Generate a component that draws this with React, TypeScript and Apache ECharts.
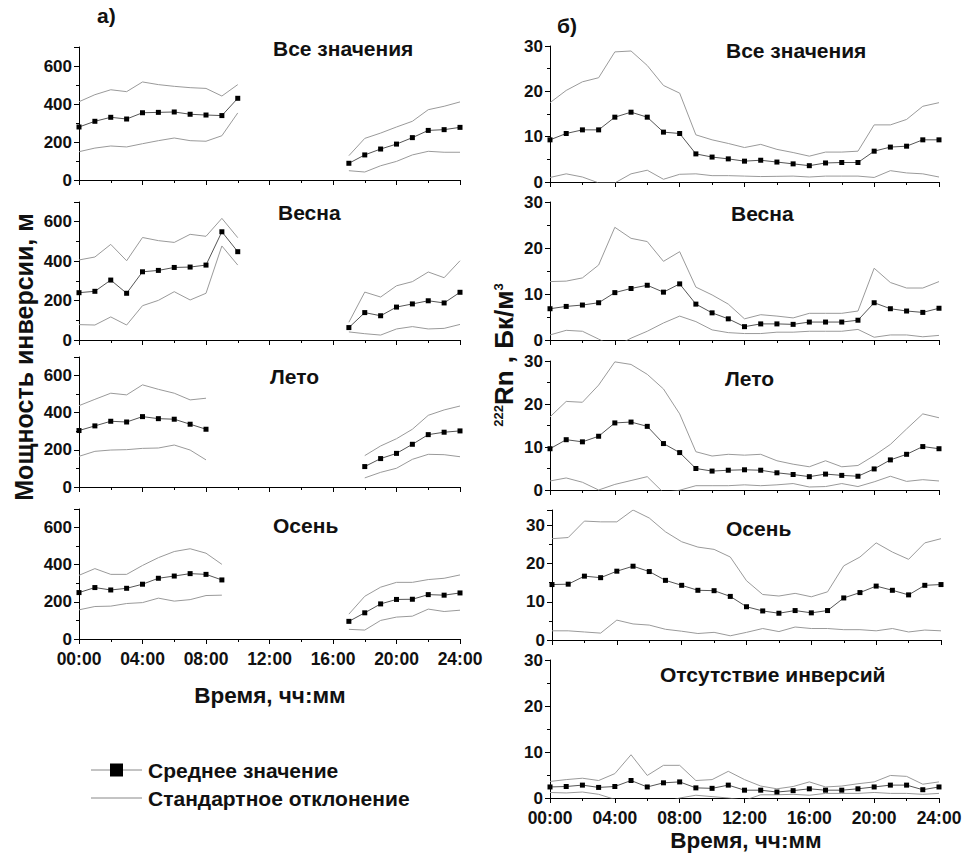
import React, { useEffect, useRef } from "react";
import * as echarts from "echarts";

const FONT = "'Liberation Sans', Arial, sans-serif";

const hours = [0, 1, 2, 3, 4, 5, 6, 7, 8, 9, 10, 11, 12, 13, 14, 15, 16, 17, 18, 19, 20, 21, 22, 23, 24];
const xTickLabels = ["00:00", "04:00", "08:00", "12:00", "16:00", "20:00", "24:00"];

const n = null;
// а) Inversion thickness, m
const invAllMean = [279, 309, 330, 321, 354, 356, 358, 346, 342, 339, 430, n, n, n, n, n, n, 88, 132, 163, 189, 223, 261, 265, 277];
const invAllUp = [412, 449, 475, 465, 516, 502, 493, 486, 482, 442, 502, n, n, n, n, n, n, 128, 219, 247, 279, 309, 370, 388, 411];
const invAllLow = [149, 168, 179, 174, 191, 207, 221, 207, 204, 233, 353, n, n, n, n, n, n, 49, 42, 75, 98, 132, 151, 146, 146];

const invSpringMean = [240, 247, 304, 237, 346, 353, 368, 370, 380, 549, 448, n, n, n, n, n, n, 63, 139, 123, 167, 183, 199, 188, 242];
const invSpringUp = [406, 421, 485, 402, 520, 504, 495, 536, 526, 617, 519, n, n, n, n, n, n, 90, 243, 218, 275, 296, 345, 316, 402];
const invSpringLow = [78, 76, 117, 76, 174, 201, 245, 203, 237, 477, 380, n, n, n, n, n, n, 41, 32, 25, 56, 68, 56, 59, 79];

const invSummerMean = [304, 329, 354, 350, 379, 368, 365, 338, 311, n, n, n, n, n, n, n, n, n, 110, 153, 181, 230, 282, 295, 302];
const invSummerUp = [438, 472, 505, 496, 550, 526, 505, 469, 478, n, n, n, n, n, n, n, n, n, 169, 221, 260, 311, 386, 415, 436];
const invSummerLow = [165, 192, 199, 201, 208, 210, 226, 199, 146, n, n, n, n, n, n, n, n, n, 49, 79, 101, 149, 176, 174, 163];

const invAutumnMean = [250, 277, 264, 273, 295, 327, 339, 352, 348, 318, n, n, n, n, n, n, n, 95, 141, 189, 213, 214, 239, 236, 248];
const invAutumnUp = [343, 379, 348, 348, 396, 438, 471, 486, 462, 402, n, n, n, n, n, n, n, 134, 230, 279, 305, 305, 320, 327, 345];
const invAutumnLow = [157, 175, 177, 191, 196, 220, 204, 212, 234, 236, n, n, n, n, n, n, n, 52, 48, 100, 118, 123, 161, 148, 155];

// б) Radon-222, Bq/m3
const rnAllMean = [9.3, 10.7, 11.5, 11.5, 14.3, 15.4, 14.3, 11.0, 10.7, 6.2, 5.5, 5.1, 4.6, 4.8, 4.4, 4.0, 3.6, 4.2, 4.3, 4.3, 6.8, 7.7, 7.9, 9.3, 9.3];
const rnAllUp = [17.5, 20.2, 22.1, 23.0, 28.7, 28.9, 25.7, 21.3, 19.6, 10.4, 9.3, 8.5, 7.6, 8.3, 7.2, 6.5, 5.7, 6.6, 6.6, 6.8, 12.6, 12.6, 13.8, 16.7, 17.5];
const rnAllLow = [1.0, 1.8, 1.1, -0.2, -0.2, 1.8, 2.6, 0.6, 1.7, 1.8, 1.4, 1.4, 1.3, 1.2, 1.25, 1.3, 1.1, 1.3, 1.3, 1.3, 1.0, 2.5, 2.0, 1.8, 1.1];

const rnSpringMean = [6.8, 7.3, 7.6, 8.1, 10.3, 11.2, 11.9, 10.4, 12.2, 7.8, 5.9, 4.6, 2.9, 3.5, 3.5, 3.4, 3.9, 3.9, 3.9, 4.3, 8.1, 6.8, 6.3, 6.0, 6.9];
const rnSpringUp = [12.7, 12.8, 13.5, 16.3, 24.5, 22.1, 21.4, 17.1, 19.2, 11.5, 9.8, 7.8, 4.6, 5.5, 5.2, 4.8, 5.8, 5.8, 5.8, 6.3, 15.6, 12.5, 11.3, 11.3, 12.7];
const rnSpringLow = [1.1, 2.1, 1.9, 0.2, -1.5, 0.4, 1.9, 3.7, 5.2, 4.0, 2.2, 1.6, 1.4, 1.4, 1.7, 1.7, 1.9, 1.9, 1.9, 2.3, 0.6, 1.1, 1.1, 0.7, 1.0];

const rnSummerMean = [9.6, 11.7, 11.2, 12.5, 15.6, 15.8, 14.8, 10.8, 8.7, 5.0, 4.4, 4.6, 4.7, 4.6, 4.0, 3.6, 3.1, 3.7, 3.4, 3.2, 4.9, 7.0, 8.3, 10.1, 9.6];
const rnSummerUp = [17.0, 20.6, 20.4, 24.4, 29.8, 29.2, 26.9, 23.5, 17.7, 8.9, 7.9, 8.3, 8.1, 8.3, 6.8, 6.0, 5.4, 6.8, 5.4, 5.7, 8.0, 10.6, 14.2, 17.7, 16.8];
const rnSummerLow = [2.1, 2.8, 1.8, 0.0, 1.3, 2.2, 3.1, -0.6, -0.05, 1.0, 1.0, 1.0, 1.2, 1.0, 1.2, 1.5, 0.7, 0.8, 1.5, 0.8, 1.9, 3.2, 2.0, 2.4, 2.1];

const rnAutumnMean = [14.5, 14.6, 16.7, 16.3, 18.0, 19.3, 17.9, 15.6, 14.3, 13.0, 12.9, 11.4, 8.7, 7.6, 7.0, 7.7, 7.1, 7.7, 11.0, 12.4, 14.1, 13.0, 11.8, 14.3, 14.5];
const rnAutumnUp = [26.5, 26.8, 31.1, 30.9, 30.9, 34.0, 31.9, 28.3, 25.7, 24.3, 23.7, 21.7, 15.5, 11.9, 11.5, 12.2, 11.3, 12.6, 19.4, 21.7, 25.4, 23.0, 21.1, 25.4, 26.5];
const rnAutumnLow = [2.4, 2.4, 2.1, 1.8, 5.2, 4.2, 3.9, 2.8, 2.3, 1.7, 2.0, 1.1, 2.0, 3.0, 2.2, 3.4, 3.0, 3.0, 2.7, 2.7, 2.4, 3.0, 2.1, 2.6, 2.4];

const rnNoInvMean = [2.4, 2.5, 2.8, 2.3, 2.5, 3.8, 2.4, 3.3, 3.5, 2.2, 2.1, 2.8, 1.7, 1.7, 1.3, 1.6, 2.0, 1.7, 1.7, 2.0, 2.4, 2.8, 2.8, 1.8, 2.4];
const rnNoInvUp = [3.6, 4.0, 4.3, 3.8, 5.3, 9.4, 4.9, 7.1, 7.1, 3.8, 4.0, 5.8, 4.0, 2.6, 2.0, 2.5, 3.5, 2.4, 2.6, 3.1, 3.5, 4.9, 4.7, 3.0, 3.5];
const rnNoInvLow = [1.2, 1.1, 1.3, 0.8, -0.3, -1.8, -0.5, -1.0, 0.0, 0.6, 0.3, 0.0, -0.5, 0.7, 0.7, 0.8, 0.6, 1.0, 1.0, 1.0, 1.2, 1.0, 1.0, 0.8, 1.0];

const panelTitles = ["Все значения", "Весна", "Лето", "Осень", "Отсутствие инверсий"];

type Panel = {
  left: number; top: number; width: number; height: number;
  max: number; step: number; showX: boolean;
  mean: (number | null)[]; up: (number | null)[]; low: (number | null)[];
  title: string; tx: number; ty: number;
};

const panels: Panel[] = [
  { left: 79, top: 47, width: 381, height: 133, max: 700, step: 200, showX: false, mean: invAllMean, up: invAllUp, low: invAllLow, title: panelTitles[0], tx: 273, ty: 48 },
  { left: 79, top: 202, width: 381, height: 138, max: 700, step: 200, showX: false, mean: invSpringMean, up: invSpringUp, low: invSpringLow, title: panelTitles[1], tx: 278, ty: 212 },
  { left: 79, top: 357, width: 381, height: 130, max: 700, step: 200, showX: false, mean: invSummerMean, up: invSummerUp, low: invSummerLow, title: panelTitles[2], tx: 270, ty: 376 },
  { left: 79, top: 509, width: 381, height: 130, max: 700, step: 200, showX: true, mean: invAutumnMean, up: invAutumnUp, low: invAutumnLow, title: panelTitles[3], tx: 273, ty: 525 },
  { left: 550, top: 46, width: 389, height: 136, max: 30, step: 10, showX: false, mean: rnAllMean, up: rnAllUp, low: rnAllLow, title: panelTitles[0], tx: 726, ty: 50 },
  { left: 550, top: 202, width: 389, height: 138, max: 30, step: 10, showX: false, mean: rnSpringMean, up: rnSpringUp, low: rnSpringLow, title: panelTitles[1], tx: 731, ty: 213 },
  { left: 550, top: 361, width: 389, height: 129, max: 30, step: 10, showX: false, mean: rnSummerMean, up: rnSummerUp, low: rnSummerLow, title: panelTitles[2], tx: 725, ty: 378 },
  { left: 552, top: 510, width: 389, height: 130, max: 34, step: 10, showX: false, mean: rnAutumnMean, up: rnAutumnUp, low: rnAutumnLow, title: panelTitles[3], tx: 726, ty: 528 },
  { left: 550, top: 660, width: 389, height: 138, max: 30, step: 10, showX: true, mean: rnNoInvMean, up: rnNoInvUp, low: rnNoInvLow, title: panelTitles[4], tx: 660, ty: 674 },
];

const toPairs = (arr: (number | null)[]) => hours.map((h, i) => [h, arr[i] === null ? "-" : arr[i]]);

const tickStyle = { color: "#000", width: 1 };

function buildOption() {
  const grid = panels.map((p) => ({ left: p.left, top: p.top, width: p.width, height: p.height, containLabel: false }));
  const xAxis = panels.map((p, i) => ({
    type: "value", gridIndex: i, min: 0, max: 24, interval: 4,
    axisLine: { show: true, onZero: false, lineStyle: tickStyle },
    axisTick: { show: true, length: 5, lineStyle: tickStyle },
    minorTick: { show: true, splitNumber: 2, length: 3, lineStyle: tickStyle },
    splitLine: { show: false }, minorSplitLine: { show: false },
    axisLabel: {
      show: p.showX, margin: 11, color: "#111", fontSize: 17.5, fontWeight: "bold", fontFamily: FONT,
      formatter: (v: number) => xTickLabels[Math.round(v / 4)] ?? "",
    },
  }));
  const yAxis = panels.map((p, i) => ({
    type: "value", gridIndex: i, min: 0, max: p.max, interval: p.step,
    axisLine: { show: true, onZero: false, lineStyle: tickStyle },
    axisTick: { show: true, length: 5, lineStyle: tickStyle },
    minorTick: { show: true, splitNumber: 2, length: 3, lineStyle: tickStyle },
    splitLine: { show: false }, minorSplitLine: { show: false },
    axisLabel: {
      margin: 7, color: "#111", fontSize: 17, lineHeight: 16, fontWeight: "bold", fontFamily: FONT,
      formatter: (v: number) => (v % p.step === 0 ? String(v) : ""),
    },
  }));
  const series: any[] = [];
  panels.forEach((p, i) => {
    series.push({
      type: "line", xAxisIndex: i, yAxisIndex: i, data: toPairs(p.up), symbol: "none",
      lineStyle: { color: "#9a9a9a", width: 1 }, connectNulls: false, silent: true, clip: true, z: 2,
    });
    series.push({
      type: "line", xAxisIndex: i, yAxisIndex: i, data: toPairs(p.low), symbol: "none",
      lineStyle: { color: "#9a9a9a", width: 1 }, connectNulls: false, silent: true, clip: true, z: 2,
    });
    series.push({
      type: "line", xAxisIndex: i, yAxisIndex: i, data: toPairs(p.mean), symbol: "rect", symbolSize: 5,
      itemStyle: { color: "#000" }, lineStyle: { color: "#555", width: 1 }, connectNulls: false,
      silent: true, clip: true, z: 3,
    });
  });

  const txt = (x: number, y: number, text: string, fontSize: number, align = "left") => ({
    type: "text", x, y,
    style: { text, fontSize, fontWeight: "bold", fontFamily: FONT, fill: "#111", textAlign: align, textVerticalAlign: "middle" },
  });

  const graphic: any[] = [
    ...panels.map((p) => txt(p.tx, p.ty, p.title, 21)),
    txt(97, 15, "а)", 21),
    txt(557, 25, "б)", 21),
    txt(270, 695, "Время, чч:мм", 22.5, "center"),
    txt(746, 840, "Время, чч:мм", 22.5, "center"),
    {
      type: "text", x: 24, y: 357, rotation: Math.PI / 2,
      style: { text: "Мощность инверсии, м", fontSize: 25, fontWeight: "bold", fontFamily: FONT, fill: "#111", textAlign: "center", textVerticalAlign: "middle" },
    },
    {
      type: "text", x: 504, y: 355, rotation: Math.PI / 2,
      style: {
        text: "{sup|222}{big|Rn , Бк/м}{sup|3}", textAlign: "center", textVerticalAlign: "middle",
        rich: {
          sup: { fontSize: 13, fontWeight: "bold", fontFamily: FONT, fill: "#111", verticalAlign: "top", lineHeight: 25 },
          big: { fontSize: 26, fontWeight: "bold", fontFamily: FONT, fill: "#111", lineHeight: 25 },
        },
      },
    },
    { type: "line", shape: { x1: 91, y1: 770, x2: 142, y2: 770 }, style: { stroke: "#888", lineWidth: 1 } },
    { type: "rect", shape: { x: 110, y: 763.5, width: 13, height: 13 }, style: { fill: "#000" } },
    txt(148, 770, "Среднее значение", 21),
    { type: "line", shape: { x1: 91, y1: 798, x2: 142, y2: 798 }, style: { stroke: "#888", lineWidth: 1 } },
    txt(148, 798, "Стандартное отклонение", 21),
  ];

  return { animation: false, backgroundColor: "#fff", grid, xAxis, yAxis, series, graphic };
}

export default function App() {
  const ref = useRef<HTMLDivElement>(null);
  useEffect(() => {
    if (!ref.current) return;
    const chart = echarts.init(ref.current, undefined, { renderer: "svg" });
    chart.setOption(buildOption() as any);
    return () => chart.dispose();
  }, []);
  return <div ref={ref} style={{ position: "fixed", left: 0, top: 0, width: 966, height: 861, background: "#fff" }} />;
}
